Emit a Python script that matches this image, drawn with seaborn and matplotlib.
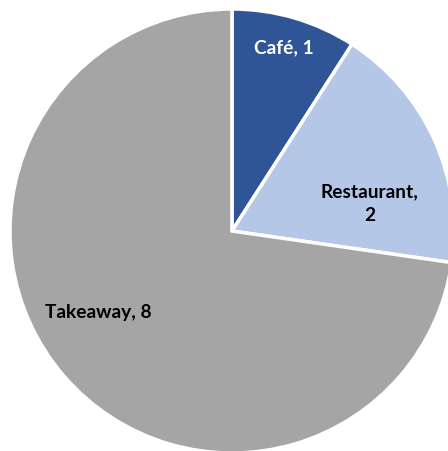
import matplotlib
matplotlib.use("Agg")
import matplotlib.pyplot as plt
import seaborn as sns

categories = ["Café", "Restaurant", "Takeaway"]
counts = [1, 2, 8]
colors = ["#2F5597", "#B4C7E7", "#A5A5A5"]
text_colors = ["white", "black", "black"]

sns.set_theme(style="white")
plt.rcParams["font.family"] = ["Lato", "DejaVu Sans"]

W, H = 448, 451
fig = plt.figure(figsize=(W / 100, H / 100), dpi=100)
ax = fig.add_axes([0, 0, 1, 1])

wedges, _ = ax.pie(
    counts,
    colors=colors,
    startangle=90,
    counterclock=False,
    radius=1.0,
    wedgeprops=dict(edgecolor="white", linewidth=2.5),
)

# label anchor points (in units of the pie radius)
label_pos = [(0.235, 0.825), (0.62, 0.122), (-0.60, -0.365)]
for cat, val, tc, (lx, ly) in zip(categories, counts, text_colors, label_pos):
    txt = f"{cat}, {val}" if cat != "Restaurant" else f"{cat},\n{val}"
    ax.text(lx, ly, txt, ha="center", va="center", fontsize=13.8,
            fontweight="bold", color=tc, linespacing=1.5)

# pie centre sits at (232, 231) px with a 222 px radius
cx, cy, r = 232, 231, 222
ax.set_xlim(-cx / r, (W - cx) / r)
ax.set_ylim(-(H - cy) / r, cy / r)
ax.set_aspect("auto")
ax.axis("off")

fig.savefig("out.png", dpi=100, facecolor="white")
